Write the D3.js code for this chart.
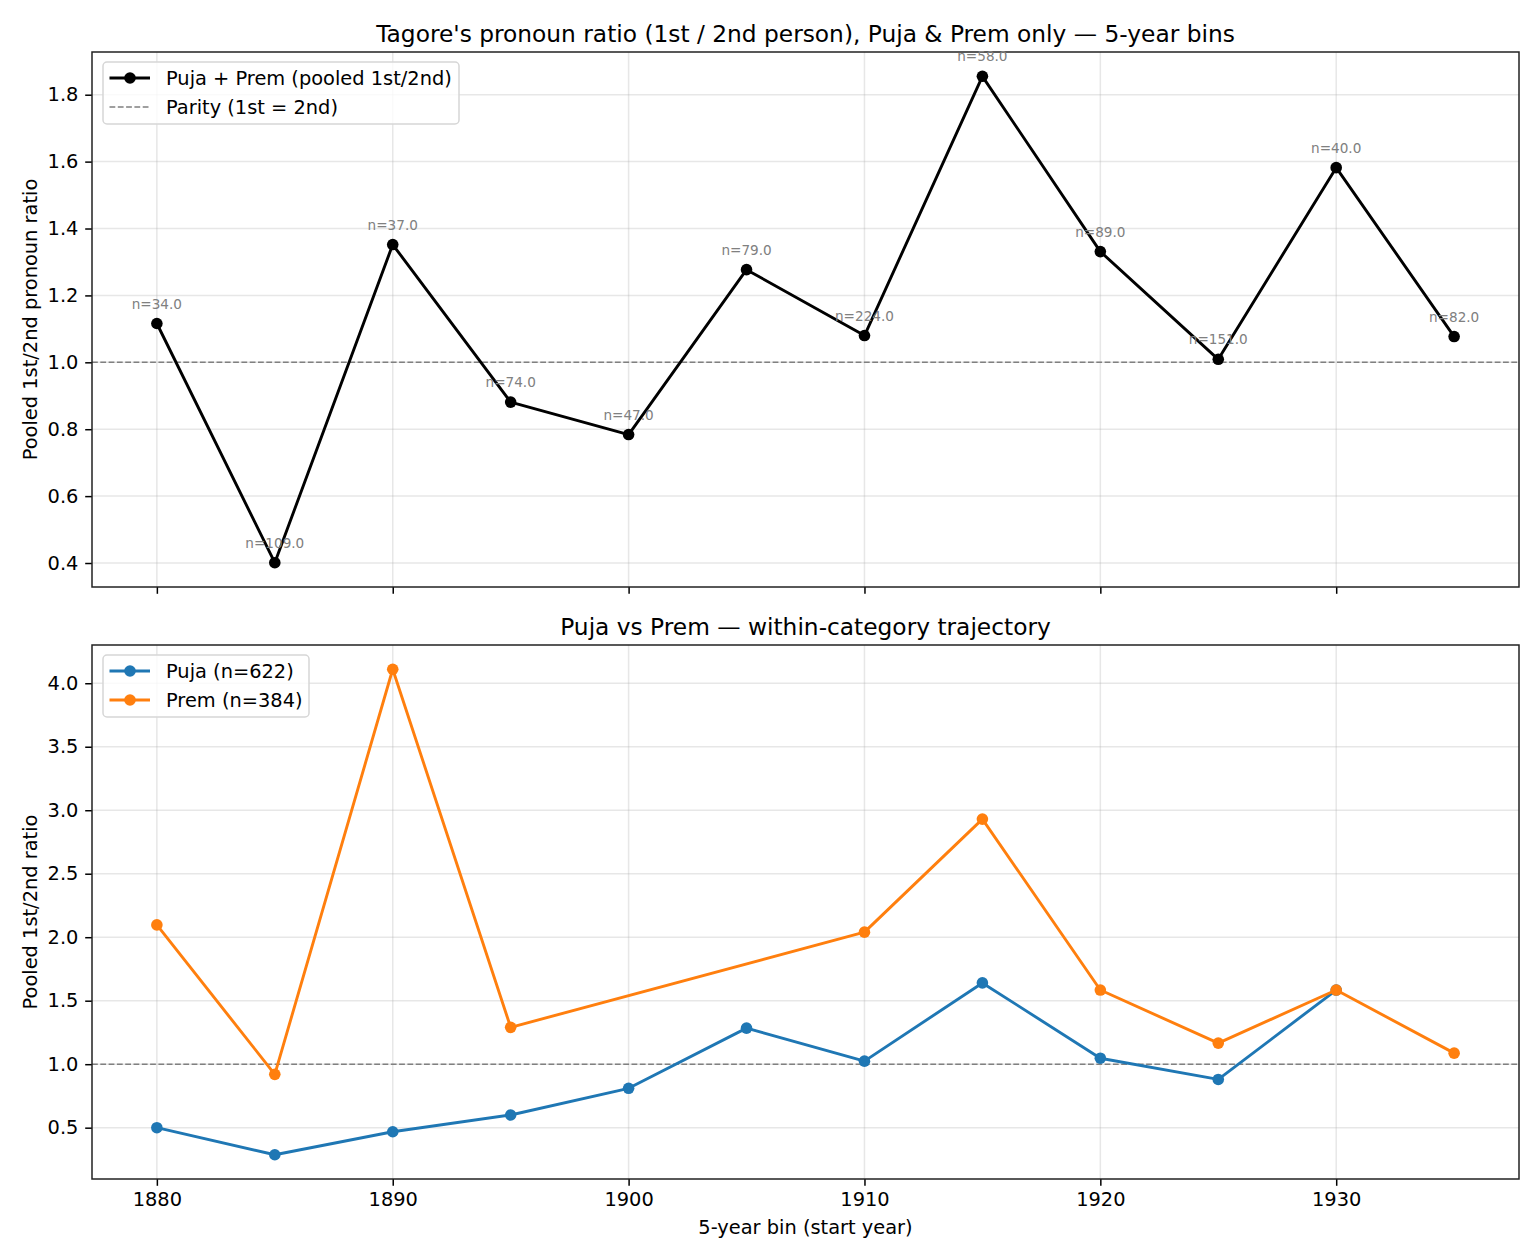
<!DOCTYPE html>
<html>
<head>
<meta charset="utf-8">
<script src="https://cdn.jsdelivr.net/npm/d3@7"></script>
<style>
  body { margin: 0; background: #fff; }
  svg text { font-family: "DejaVu Sans", sans-serif; }
</style>
</head>
<body>
<div id="chart"></div>
<script>
// Step 1: Set up the data
var years = [1880, 1885, 1890, 1895, 1900, 1905, 1910, 1915, 1920, 1925, 1930, 1935];
var pooledRatio = [1.116, 0.401, 1.352, 0.881, 0.784, 1.277, 1.080, 1.855, 1.331, 1.009, 1.582, 1.077];
var pooledN = [34, 109, 37, 74, 47, 79, 224, 58, 89, 151, 40, 82];
var pujaRatio = [0.50, 0.287, 0.468, 0.60, 0.81, 1.284, 1.024, 1.64, 1.047, 0.88, 1.584, null];
var premRatio = [2.097, 0.92, 4.11, 1.29, null, null, 2.04, 2.93, 1.584, 1.166, 1.584, 1.087];
var seriesNames = ["Puja (n=622)", "Prem (n=384)"];
var xTicks = [1880, 1890, 1900, 1910, 1920, 1930];
var topYTicks = [0.4, 0.6, 0.8, 1.0, 1.2, 1.4, 1.6, 1.8];
var bottomYTicks = [0.5, 1.0, 1.5, 2.0, 2.5, 3.0, 3.5, 4.0];

// Set the width and height of the SVG canvas
var w = 1540;
var h = 1260;
var left = 92, right = 1519;
var top1 = 52, bottom1 = 587;
var top2 = 645, bottom2 = 1179;
var blue = "#1f77b4", orange = "#ff7f0e";
var fs = 19.4;  // 10pt at this figure's dpi

var svg = d3.select("#chart")
    .append("svg")
    .attr("width", w)
    .attr("height", h);

// pad a domain by 5% like matplotlib does
function padded(ext) {
    var p = (ext[1] - ext[0]) * 0.05;
    return [ext[0] - p, ext[1] + p];
}

// Step 2: Scales
var x = d3.scaleLinear()
    .domain(padded(d3.extent(years)))
    .range([left, right]);

var y1 = d3.scaleLinear()
    .domain(padded(d3.extent(pooledRatio)))
    .range([bottom1, top1]);

var allSub = pujaRatio.concat(premRatio).filter(function (v) { return v != null; });
var y2 = d3.scaleLinear()
    .domain(padded(d3.extent(allSub)))
    .range([bottom2, top2]);

// Step 3: Panel frame, grid and axes
function drawPanel(y, yTicks, top, bottom, showXLabels, yLabel, title) {
    var g = svg.append("g");

    // grid
    g.selectAll("line.gx")
        .data(xTicks)
        .enter()
        .append("line")
        .attr("x1", function (d) { return x(d); })
        .attr("x2", function (d) { return x(d); })
        .attr("y1", top)
        .attr("y2", bottom)
        .attr("stroke", "#b0b0b0")
        .attr("stroke-opacity", 0.3)
        .attr("stroke-width", 1.5);

    g.selectAll("line.gy")
        .data(yTicks)
        .enter()
        .append("line")
        .attr("x1", left)
        .attr("x2", right)
        .attr("y1", function (d) { return y(d); })
        .attr("y2", function (d) { return y(d); })
        .attr("stroke", "#b0b0b0")
        .attr("stroke-opacity", 0.3)
        .attr("stroke-width", 1.5);

    // parity line
    g.append("line")
        .attr("x1", left)
        .attr("x2", right)
        .attr("y1", y(1))
        .attr("y2", y(1))
        .attr("stroke", "#808080")
        .attr("stroke-width", 1.5)
        .attr("stroke-dasharray", "5.8,2.5");

    var xAxis = d3.axisBottom(x)
        .tickValues(xTicks)
        .tickSize(6.8)
        .tickPadding(6.8)
        .tickFormat(showXLabels ? d3.format("d") : "");

    var ax = g.append("g")
        .attr("transform", "translate(0," + bottom + ")")
        .call(xAxis);

    var yAxis = d3.axisLeft(y)
        .tickValues(yTicks)
        .tickSize(6.8)
        .tickPadding(6.8)
        .tickFormat(d3.format(".1f"));

    var ay = g.append("g")
        .attr("transform", "translate(" + left + ",0)")
        .call(yAxis);

    [ax, ay].forEach(function (a) {
        a.select(".domain").remove();
        a.selectAll(".tick line").attr("stroke", "#000").attr("stroke-width", 1.5);
        a.selectAll(".tick text")
            .attr("fill", "#000")
            .style("font-size", fs + "px");
    });

    // frame
    g.append("rect")
        .attr("x", left)
        .attr("y", top)
        .attr("width", right - left)
        .attr("height", bottom - top)
        .attr("fill", "none")
        .attr("stroke", "#222")
        .attr("stroke-width", 1.5);

    g.append("text")
        .attr("x", (left + right) / 2)
        .attr("y", top - 10)
        .attr("text-anchor", "middle")
        .style("font-size", "23.3px")
        .text(title);

    g.append("text")
        .attr("transform", "translate(37," + (top + bottom) / 2 + ") rotate(-90)")
        .attr("text-anchor", "middle")
        .style("font-size", fs + "px")
        .text(yLabel);

    return g;
}

drawPanel(y1, topYTicks, top1, bottom1, false,
    "Pooled 1st/2nd pronoun ratio",
    "Tagore's pronoun ratio (1st / 2nd person), Puja & Prem only \u2014 5-year bins");

drawPanel(y2, bottomYTicks, top2, bottom2, true,
    "Pooled 1st/2nd ratio",
    "Puja vs Prem \u2014 within-category trajectory");

svg.append("text")
    .attr("x", (left + right) / 2)
    .attr("y", 1234)
    .attr("text-anchor", "middle")
    .style("font-size", fs + "px")
    .text("5-year bin (start year)");

// Step 4: Draw the lines and markers
function drawSeries(values, y, color) {
    var pts = years.map(function (yr, i) { return { x: yr, v: values[i] }; })
        .filter(function (d) { return d.v != null; });

    var line = d3.line()
        .x(function (d) { return x(d.x); })
        .y(function (d) { return y(d.v); });

    svg.append("path")
        .datum(pts)
        .attr("d", line)
        .attr("fill", "none")
        .attr("stroke", color)
        .attr("stroke-width", 2.9)
        .attr("stroke-linejoin", "round");

    svg.append("g")
        .selectAll("circle")
        .data(pts)
        .enter()
        .append("circle")
        .attr("cx", function (d) { return x(d.x); })
        .attr("cy", function (d) { return y(d.v); })
        .attr("r", 5.8)
        .attr("fill", color);
}

drawSeries(pooledRatio, y1, "#000");
drawSeries(pujaRatio, y2, blue);
drawSeries(premRatio, y2, orange);

// Step 5: n labels above the pooled points
svg.append("g")
    .selectAll("text")
    .data(years)
    .enter()
    .append("text")
    .attr("x", function (d) { return x(d); })
    .attr("y", function (d, i) { return y1(pooledRatio[i]) - 15; })
    .attr("text-anchor", "middle")
    .attr("fill", "#808080")
    .style("font-size", "13.6px")
    .text(function (d, i) { return "n=" + pooledN[i].toFixed(1); });

// Step 6: Legends
function drawLegend(bx, by, bw, entries) {
    var g = svg.append("g");
    g.append("rect")
        .attr("x", bx)
        .attr("y", by)
        .attr("width", bw)
        .attr("height", 33 + (entries.length - 1) * 29)
        .attr("rx", 4)
        .attr("fill", "#fff")
        .attr("fill-opacity", 0.8)
        .attr("stroke", "#d6d6d6")
        .attr("stroke-width", 1.5);

    entries.forEach(function (e, i) {
        var cy = by + 16 + i * 29;
        var l = g.append("line")
            .attr("x1", bx + 6.5)
            .attr("x2", bx + 47)
            .attr("y1", cy)
            .attr("y2", cy)
            .attr("stroke", e.color)
            .attr("stroke-width", e.dashed ? 1.5 : 2.9);
        if (e.dashed) l.attr("stroke-dasharray", "5.8,2.5");
        if (e.marker) {
            g.append("circle")
                .attr("cx", bx + 27)
                .attr("cy", cy)
                .attr("r", 5.8)
                .attr("fill", e.color);
        }
        g.append("text")
            .attr("x", bx + 63)
            .attr("y", cy)
            .attr("dy", "0.35em")
            .style("font-size", fs + "px")
            .text(e.label);
    });
}

drawLegend(103, 62, 356, [
    { label: "Puja + Prem (pooled 1st/2nd)", color: "#000", marker: true },
    { label: "Parity (1st = 2nd)", color: "#808080", dashed: true }
]);

drawLegend(103, 655, 206, [
    { label: seriesNames[0], color: blue, marker: true },
    { label: seriesNames[1], color: orange, marker: true }
]);
</script>
</body>
</html>
